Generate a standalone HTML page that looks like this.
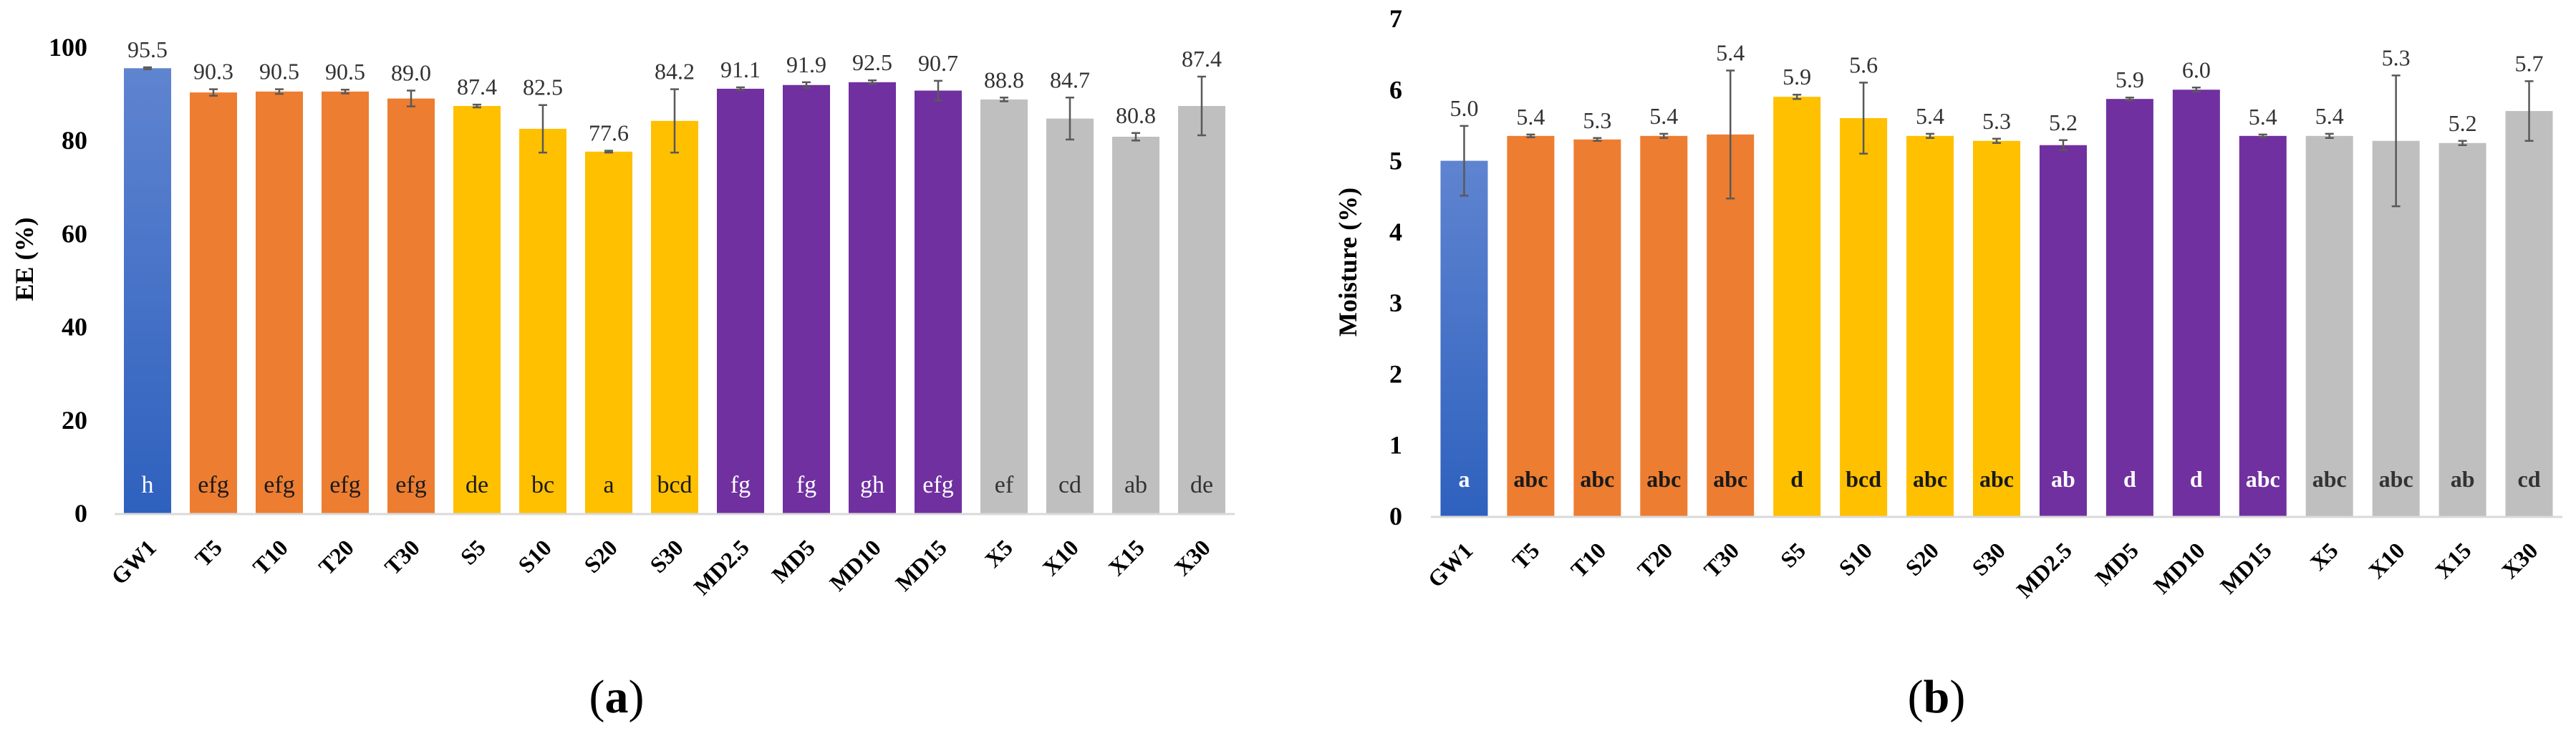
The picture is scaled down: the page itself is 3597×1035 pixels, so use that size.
<!DOCTYPE html>
<html><head><meta charset="utf-8">
<style>
html,body{margin:0;padding:0;background:#fff;}
svg{display:block;font-family:"Liberation Serif",serif;}
</style></head>
<body>
<svg id="fig" width="3597" height="1035" viewBox="0 0 3597 1035" xmlns="http://www.w3.org/2000/svg">
<defs>
<linearGradient id="blueGrad" x1="0" y1="0" x2="0" y2="1">
<stop offset="0" stop-color="#5f84d0"/><stop offset="1" stop-color="#2e61be"/>
</linearGradient>
</defs>
<g id="chartA"></g>
<g id="chartB"></g>
<text x="861" y="995" text-anchor="middle" font-size="66">(<tspan font-weight="bold">a</tspan>)</text>
<text x="2704" y="995" text-anchor="middle" font-size="66">(<tspan font-weight="bold">b</tspan>)</text>
</svg>
<script>
const categories = ["GW1","T5","T10","T20","T30","S5","S10","S20","S30","MD2.5","MD5","MD10","MD15","X5","X10","X15","X30"];
const groups = ["gw","t","t","t","t","s","s","s","s","md","md","md","md","x","x","x","x"];
const eeValues = [95.5,90.3,90.5,90.5,89.0,87.4,82.5,77.6,84.2,91.1,91.9,92.5,90.7,88.8,84.7,80.8,87.4];
const eeErrors = [0.2,0.7,0.5,0.4,1.7,0.3,5.1,0.2,6.8,0.3,0.6,0.4,2.1,0.4,4.5,0.8,6.3];
const eeLabels = ["95.5","90.3","90.5","90.5","89.0","87.4","82.5","77.6","84.2","91.1","91.9","92.5","90.7","88.8","84.7","80.8","87.4"];
const eeLetters = ["h","efg","efg","efg","efg","de","bc","a","bcd","fg","fg","gh","efg","ef","cd","ab","de"];
const eeTicks = [0,20,40,60,80,100];
const moValues = [5.0,5.35,5.3,5.35,5.37,5.9,5.6,5.35,5.28,5.22,5.87,6.0,5.35,5.35,5.28,5.25,5.7];
const moErrors = [0.49,0.02,0.02,0.03,0.9,0.03,0.5,0.03,0.03,0.07,0.02,0.03,0.02,0.03,0.92,0.03,0.42];
const moLabels = ["5.0","5.4","5.3","5.4","5.4","5.9","5.6","5.4","5.3","5.2","5.9","6.0","5.4","5.4","5.3","5.2","5.7"];
const moLetters = ["a","abc","abc","abc","abc","d","bcd","abc","abc","ab","d","d","abc","abc","abc","ab","cd"];
const moTicks = [0,1,2,3,4,5,6,7];

const NS="http://www.w3.org/2000/svg";
const fills={gw:"url(#blueGrad)",t:"#ed7d31",s:"#ffc000",md:"#7030a0",x:"#bfbfbf"};
const letterColor={gw:"#ffffff",t:"#1a1a1a",s:"#1a1a1a",md:"#ffffff",x:"#333333"};
function mk(tag,attrs,parent){const e=document.createElementNS(NS,tag);for(const k in attrs)e.setAttribute(k,attrs[k]);parent.appendChild(e);return e;}

function drawChart(g,cfg){
  const y=v=>cfg.y0-(v/cfg.vmax)*(cfg.y0-cfg.yTop);
  const band=(cfg.x1-cfg.x0)/categories.length;
  const xc=i=>cfg.x0+band*(i+0.5);
  const bw=66;
  // ticks
  cfg.ticks.forEach(t=>{
    const tx=mk("text",{x:cfg.tickX,y:y(t)+12,"text-anchor":"end","font-size":36,"font-weight":"bold",fill:"#000"},g);
    tx.textContent=t;
    
    
  });
  // y title
  const yt=mk("text",{x:0,y:0,transform:`translate(${cfg.titleX},${cfg.titleY}) rotate(-90)`,"text-anchor":"middle","font-size":36,"font-weight":"bold"},g);
  yt.textContent=cfg.title;
  
  
  categories.forEach((c,i)=>{
    const v=cfg.values[i], e=cfg.errors[i], grp=groups[i];
    const r=mk("rect",{x:xc(i)-bw/2,y:y(v),width:bw,height:cfg.y0-y(v),fill:fills[grp]},g);
    
    
    const top=y(v+e), bot=y(v-e);
    const eb=mk("path",{d:`M${xc(i)},${top}V${bot}M${xc(i)-6},${top}H${xc(i)+6}M${xc(i)-6},${bot}H${xc(i)+6}`,stroke:"#595959","stroke-width":2.5,fill:"none"},g);
    
    
    const vl=mk("text",{x:xc(i),y:top-14,"text-anchor":"middle","font-size":32,fill:"#333"},g);
    vl.textContent=cfg.labels[i];
    
    
    const lt=mk("text",{x:xc(i),y:cfg.letterY,"text-anchor":"middle","font-size":cfg.letterSize,"font-weight":cfg.letterBold?"bold":"normal",fill:letterColor[grp]},g);
    lt.textContent=cfg.letters[i];
    
    
    const xl=mk("text",{x:0,y:0,transform:`translate(${xc(i)+14},${cfg.y0+50}) rotate(-45)`,"text-anchor":"end","font-size":32,"font-weight":"bold"},g);
    xl.textContent=c;
    
    
  });
  const ax=mk("line",{x1:cfg.x0,y1:cfg.y0+1,x2:cfg.x1,y2:cfg.y0+1,stroke:"#d9d9d9","stroke-width":3},g);
  
  
}
drawChart(document.getElementById("chartA"),{values:eeValues,errors:eeErrors,labels:eeLabels,letters:eeLetters,ticks:eeTicks,vmax:100,y0:717,yTop:66,x0:160,x1:1724,tickX:122,title:"EE (%)",titleX:46,titleY:362,letterY:688,letterSize:34,letterBold:false});
drawChart(document.getElementById("chartB"),{values:moValues,errors:moErrors,labels:moLabels,letters:moLetters,ticks:moTicks,vmax:7,y0:721,yTop:26,x0:1998,x1:3578,tickX:1958,title:"Moisture (%)",titleX:1894,titleY:366,letterY:680,letterSize:32,letterBold:true});
</script>
</body></html>
